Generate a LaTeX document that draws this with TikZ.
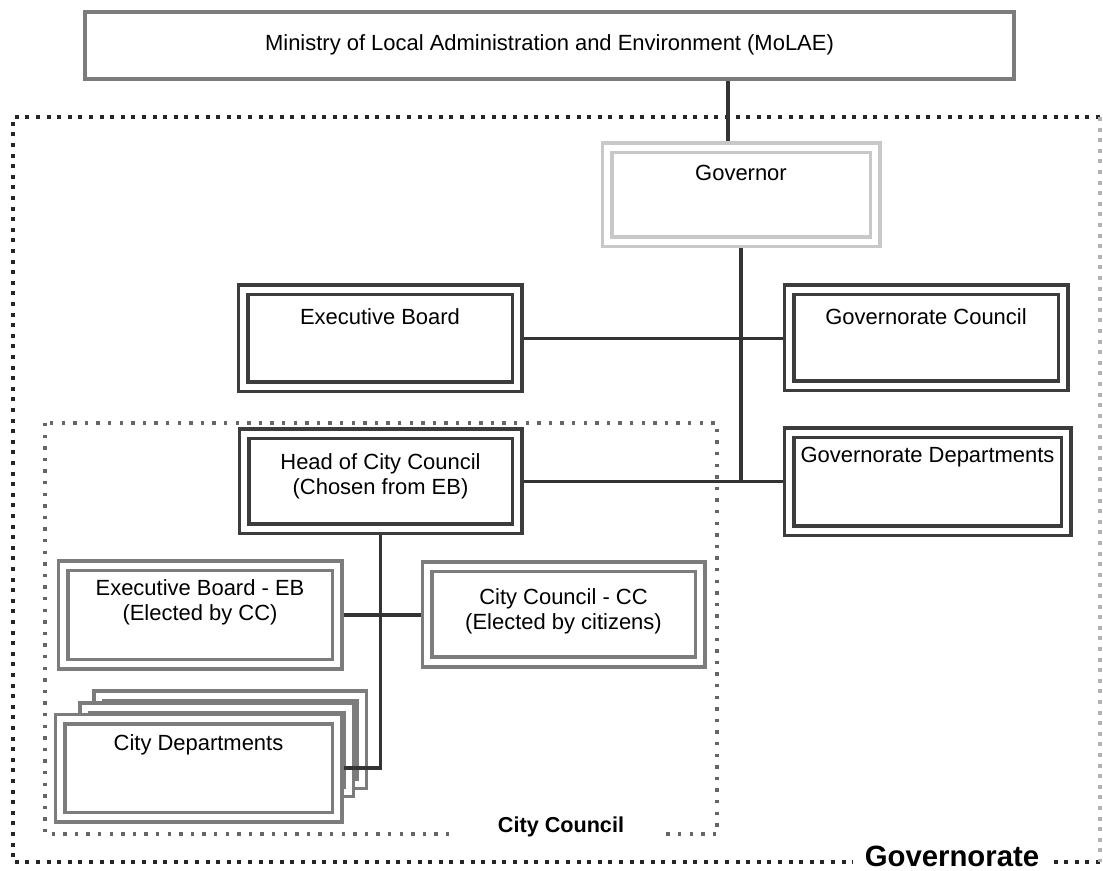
\documentclass[tikz,border=0pt]{standalone}
\usepackage{fontspec}
\setmainfont{Liberation Sans}
\usepackage{tikz}
\usetikzlibrary{calc,backgrounds}

\newlength{\pxu}
\setlength{\pxu}{0.02cm}
\newcommand{\boxtext}[4]{\parbox[c][#2\pxu][t]{#1\pxu}{\centering\vspace*{#3\pxu}#4}}

\definecolor{boxdark}{HTML}{3C3C3C}
\definecolor{boxmid}{HTML}{7C7C7C}
\definecolor{boxlight}{HTML}{C8C8C8}
\definecolor{linkdark}{HTML}{333333}

\tikzset{
  orgbox/.style={draw=boxdark, double=white, double distance=6\pxu, line width=3.5\pxu,
    fill=white, inner sep=0pt, outer sep=0pt, font=\fontsize{12.5}{13.8}\selectfont},
  plainbox/.style={draw=boxmid, line width=4\pxu, fill=white, inner sep=0pt, outer sep=0pt,
    font=\fontsize{12.5}{13.8}\selectfont},
  link/.style={draw=linkdark, line width=3.5\pxu},
  govframe/.style={draw=black!85, line width=4.2\pxu, dash pattern=on 4\pxu off 6.6\pxu},
  ccframe/.style={draw=black!60, line width=3.6\pxu, dash pattern=on 3.4\pxu off 8.2\pxu},
  framelabel/.style={fill=white, anchor=base, inner ysep=1.5\pxu}
}

\begin{document}
\begin{tikzpicture}[x=0.02cm, y=-0.02cm]
  \useasboundingbox (0,0) rectangle (1103,871);

  \node[plainbox] (molae) at (549.5,45.5) {\boxtext{929}{67}{23}{Ministry of Local Administration and Environment (MoLAE)}};
  \node[orgbox, draw=boxlight] (gov) at (741,195) {\boxtext{268}{94}{17}{Governor}};

  \node[orgbox] (exb) at (380,338.5) {\boxtext{274}{97}{19}{Executive Board}};
  \node[orgbox] (gcl) at (926,338) {\boxtext{274}{96}{19}{Governorate Council}};
  \node[orgbox] (gdp) at (927.5,482) {\boxtext{277}{98}{14}{Governorate Departments}};
  \node[orgbox] (hcc) at (380.5,481.5) {\boxtext{273}{95}{20}{Head of City Council\\(Chosen from EB)}};

  \node[orgbox, draw=boxmid] (ceb) at (200,615) {\boxtext{274}{98}{14}{Executive Board - EB\\(Elected by CC)}};
  \node[orgbox, draw=boxmid] (ccc) at (563.5,614.5) {\boxtext{273}{95}{22}{City Council - CC\\(Elected by citizens)}};
  \node[orgbox, draw=boxmid] (cdp) at (198.5,768) {\boxtext{277}{98}{16}{City Departments}};

  % frames, stacked departments and links behind the boxes
  \begin{pgfonlayer}{background}
    \draw[govframe] (1100,862) -- (13,862) -- (13,117) -- (1100,117);
    \draw[govframe, draw=black!30] (1100,117) -- (1100,862);
    \draw[ccframe] (45,423) rectangle (717,834);

    \node[orgbox, draw=boxmid, minimum width=263\pxu, minimum height=88\pxu] (cdpc) at (230,739.5) {};
    \node[orgbox, draw=boxmid, minimum width=264\pxu, minimum height=84\pxu] (cdpb) at (216.5,749.5) {};

    \coordinate (govtop) at ($(gov.north)+(-13,0)$);
    \draw[link] (govtop) -- (govtop |- molae.south);
    \draw[link] (gov.south) -- (gov.south |- gdp.west);
    \draw[link] (exb.east) -- (exb.east -| gcl.west);
    \draw[link] (hcc.east) -- (hcc.east -| gdp.west);
    \draw[link] (ceb.east) -- (ceb.east -| ccc.west);
    \draw[link] (hcc.south) |- (cdp.east);
  \end{pgfonlayer}

  \node[framelabel, inner xsep=41\pxu, font=\bfseries\fontsize{12.3}{14}\selectfont] (cclabel) at (561,832) {City Council};
  \node[framelabel, inner xsep=12\pxu, font=\bfseries\fontsize{16.7}{20}\selectfont] (govlabel) at (952,866) {Governorate};
\end{tikzpicture}
\end{document}
